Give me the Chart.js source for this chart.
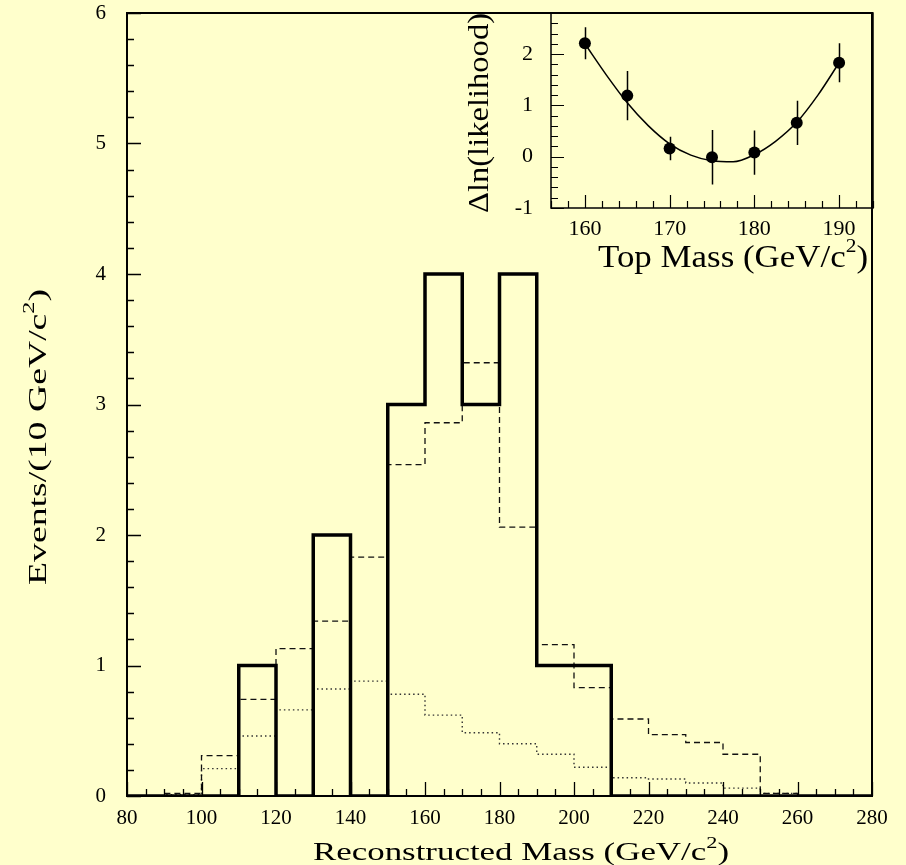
<!DOCTYPE html>
<html>
<head>
<meta charset="utf-8">
<script src="https://cdn.jsdelivr.net/npm/chart.js@4.4.1/dist/chart.umd.min.js"></script>
<style>
  html, body { margin: 0; padding: 0; background: #ffffcc; }
  #wrap { position: relative; width: 906px; height: 865px; }
  #wrap canvas { position: absolute; left: 0; top: 0; pointer-events: none; }
</style>
</head>
<body>
<div id="wrap">
  <canvas id="mass-hist" width="906" height="865"></canvas>
  <canvas id="likelihood" width="906" height="865"></canvas>
</div>
<script>
// main histogram, 10 GeV/c2 bins
const binEdges = [80, 90, 100, 110, 120, 130, 140, 150, 160, 170, 180, 190, 200, 210, 220, 230, 240, 250, 260, 270, 280];
const dataCounts = [0, 0, 0, 1, 0, 2, 0, 3, 4, 3, 4, 1, 1, 0, 0, 0, 0, 0, 0, 0];
const sigPlusBkg = [0, 0.02, 0.31, 0.74, 1.13, 1.34, 1.83, 2.54, 2.86, 3.32, 2.06, 1.16, 0.83, 0.59, 0.47, 0.41, 0.32, 0.02, 0, 0];
const bkgOnly = [0, 0.01, 0.21, 0.46, 0.66, 0.82, 0.88, 0.78, 0.62, 0.485, 0.40, 0.32, 0.22, 0.14, 0.13, 0.10, 0.06, 0.02, 0, 0];
const massTicks = [80, 100, 120, 140, 160, 180, 200, 220, 240, 260, 280];
const eventTicks = [0, 1, 2, 3, 4, 5, 6];

// inset: likelihood vs top mass
const topMass = [160, 165, 170, 175, 180, 185, 190];
const deltaLnL = [2.21, 1.19, 0.16, -0.01, 0.08, 0.66, 1.83];
const deltaLnLErr = [0.31, 0.48, 0.23, 0.53, 0.43, 0.43, 0.38];
const fitMass = [160, 162.5, 165, 167.5, 170, 172.5, 175, 177.5, 180, 182.5, 185, 187.5, 190];
const fitLnL = [2.2, 1.6, 1.05, 0.6, 0.25, 0.03, -0.08, -0.1, 0.04, 0.3, 0.67, 1.2, 1.83];
const topMassTicks = [160, 170, 180, 190];
const lnLTicks = [-1, 0, 1, 2];

const FONT = "'Liberation Serif', 'Times New Roman', serif";

let toSteps = (edges, values) => {
  const pts = values.map((v, i) => ({ x: edges[i], y: v }));
  pts.push({ x: edges[edges.length - 1], y: values[values.length - 1] });
  return pts;
};

// frame + inward ticks on bottom and left axes
const frameTicks = {
  id: "frameTicks",
  afterDatasetsDraw(chart, args, opts) {
    const { ctx, chartArea: a } = chart;
    const xs = chart.scales.x, ys = chart.scales.y;
    ctx.save();
    ctx.strokeStyle = "#000";
    ctx.lineWidth = opts.lineWidth;
    ctx.strokeRect(a.left, a.top, a.right - a.left, a.bottom - a.top);
    ctx.lineWidth = opts.tickWidth;
    ctx.beginPath();
    let k0 = Math.ceil(xs.min / opts.xMinor - 1e-9);
    for (let k = k0; k * opts.xMinor <= xs.max + 1e-9; k++) {
      const v = k * opts.xMinor;
      const r = v / opts.xMajor;
      const len = Math.abs(r - Math.round(r)) < 1e-6 ? opts.majorLen : opts.minorLen;
      const px = Math.round(xs.getPixelForValue(v)) + 0.5;
      ctx.moveTo(px, a.bottom);
      ctx.lineTo(px, a.bottom - len);
    }
    k0 = Math.ceil(ys.min / opts.yMinor - 1e-9);
    for (let k = k0; k * opts.yMinor <= ys.max + 1e-9; k++) {
      const v = k * opts.yMinor;
      const r = v / opts.yMajor;
      const len = Math.abs(r - Math.round(r)) < 1e-6 ? opts.majorLen : opts.minorLen;
      const py = Math.round(ys.getPixelForValue(v)) + 0.5;
      ctx.moveTo(a.left, py);
      ctx.lineTo(a.left + len, py);
    }
    ctx.stroke();
    ctx.restore();
  },
};

// axis titles with a raised "2", stretched to the measured width
let drawTitle = (ctx, t) => {
  const mainFont = t.size + "px " + FONT;
  const supFont = Math.round(t.size * 0.62) + "px " + FONT;
  ctx.save();
  ctx.translate(t.x, t.y);
  ctx.rotate(t.angle || 0);
  ctx.font = mainFont;
  const w1 = ctx.measureText(t.text).width;
  const w3 = ctx.measureText(t.tail || "").width;
  ctx.font = supFont;
  const w2 = ctx.measureText(t.sup || "").width;
  const total = w1 + w2 + w3;
  ctx.scale(t.width / total, 1);
  ctx.fillStyle = "#000";
  ctx.textBaseline = "alphabetic";
  ctx.textAlign = "left";
  let cur = -total / 2;
  ctx.font = mainFont;
  ctx.fillText(t.text, cur, 0);
  cur += w1;
  if (t.sup) {
    ctx.font = supFont;
    ctx.fillText(t.sup, cur, -t.size * 0.48);
    cur += w2;
  }
  if (t.tail) {
    ctx.font = mainFont;
    ctx.fillText(t.tail, cur, 0);
  }
  ctx.restore();
};

const axisTitles = {
  id: "axisTitles",
  afterDraw(chart, args, opts) {
    opts.items.forEach((t) => drawTitle(chart.ctx, t));
  },
};

const errorBars = {
  id: "errorBars",
  beforeDatasetsDraw(chart) {
    const { ctx } = chart;
    const xs = chart.scales.x, ys = chart.scales.y;
    ctx.save();
    ctx.strokeStyle = "#000";
    ctx.lineWidth = 1.5;
    ctx.beginPath();
    topMass.forEach((m, i) => {
      const px = Math.round(xs.getPixelForValue(m)) + 0.5;
      ctx.moveTo(px, ys.getPixelForValue(deltaLnL[i] + deltaLnLErr[i]));
      ctx.lineTo(px, ys.getPixelForValue(deltaLnL[i] - deltaLnLErr[i]));
    });
    ctx.stroke();
    ctx.restore();
  },
};

let tickFont = (size) => ({ family: FONT, size: size });

// y axis: fixed width, and no extra top/bottom room for the end labels
let fixYScale = (width) => (s) => {
  s.width = width;
  s.paddingTop = 0;
  s.paddingBottom = 0;
};

let makeMassHistogram = () => {
  const canvas = document.getElementById("mass-hist");
  return new Chart(canvas.getContext("2d"), {
    type: "line",
    data: {
      datasets: [
        {
          label: "Data",
          data: toSteps(binEdges, dataCounts),
          stepped: "before",
          borderColor: "#000",
          borderWidth: 3.5,
          pointRadius: 0,
          fill: false,
        },
        {
          label: "Signal + background",
          data: toSteps(binEdges, sigPlusBkg),
          stepped: "before",
          borderColor: "#111",
          borderWidth: 1.3,
          borderDash: [6, 4],
          pointRadius: 0,
          fill: false,
        },
        {
          label: "Background",
          data: toSteps(binEdges, bkgOnly),
          stepped: "before",
          borderColor: "#333",
          borderWidth: 1.4,
          borderDash: [1.5, 3],
          pointRadius: 0,
          fill: false,
        },
      ],
    },
    options: {
      responsive: false,
      animation: false,
      events: [],
      layout: { autoPadding: false, padding: { top: 13, right: 34, left: 0, bottom: 0 } },
      plugins: {
        legend: { display: false },
        tooltip: { enabled: false },
        frameTicks: { lineWidth: 2, tickWidth: 1.3, xMinor: 5, xMajor: 20, yMinor: 0.2, yMajor: 1, majorLen: 14, minorLen: 7 },
        axisTitles: {
          items: [
            { text: "Reconstructed Mass (GeV/c", sup: "2", tail: ")", x: 521, y: 860, size: 25, width: 416 },
            { text: "Events/(10 GeV/c", sup: "2", tail: ")", x: 46, y: 437, size: 25, width: 296, angle: -Math.PI / 2 },
          ],
        },
      },
      scales: {
        x: {
          type: "linear",
          min: 80,
          max: 280,
          grid: { display: false },
          border: { display: false },
          afterBuildTicks: (s) => { s.ticks = massTicks.map((v) => ({ value: v })); },
          afterFit: (s) => { s.height = 69; },
          ticks: { color: "#000", padding: 2, maxRotation: 0, font: tickFont(21) },
        },
        y: {
          type: "linear",
          min: 0,
          max: 6,
          grid: { display: false },
          border: { display: false },
          afterBuildTicks: (s) => { s.ticks = eventTicks.map((v) => ({ value: v })); },
          afterFit: fixYScale(127),
          ticks: { color: "#000", padding: 13, font: tickFont(21) },
        },
      },
    },
    plugins: [frameTicks, axisTitles],
  });
};

let makeLikelihoodInset = () => {
  const canvas = document.getElementById("likelihood");
  return new Chart(canvas.getContext("2d"), {
    type: "line",
    data: {
      datasets: [
        {
          label: "Measurements",
          data: topMass.map((m, i) => ({ x: m, y: deltaLnL[i] })),
          showLine: false,
          pointRadius: 6,
          pointBackgroundColor: "#000",
          pointBorderColor: "#000",
          pointBorderWidth: 0,
        },
        {
          label: "Fit",
          data: fitMass.map((m, i) => ({ x: m, y: fitLnL[i] })),
          borderColor: "#000",
          borderWidth: 1.5,
          tension: 0.4,
          cubicInterpolationMode: "monotone",
          pointRadius: 0,
          fill: false,
        },
      ],
    },
    options: {
      responsive: false,
      animation: false,
      events: [],
      layout: { autoPadding: false, padding: { top: 13, right: 33, left: 441, bottom: 597 } },
      plugins: {
        legend: { display: false },
        tooltip: { enabled: false },
        frameTicks: { lineWidth: 1.5, tickWidth: 1.2, xMinor: 2, xMajor: 10, yMinor: 0.2, yMajor: 1, majorLen: 13, minorLen: 7 },
        axisTitles: {
          items: [
            { text: "Top Mass (GeV/c", sup: "2", tail: ")", x: 733, y: 267, size: 31, width: 270 },
            { text: "\u0394ln(likelihood)", x: 488, y: 113, size: 30, width: 200, angle: -Math.PI / 2 },
          ],
        },
      },
      scales: {
        x: {
          type: "linear",
          min: 156,
          max: 194,
          grid: { display: false },
          border: { display: false },
          afterBuildTicks: (s) => { s.ticks = topMassTicks.map((v) => ({ value: v })); },
          afterFit: (s) => { s.height = 60; },
          ticks: { color: "#000", padding: 0, maxRotation: 0, font: tickFont(22) },
        },
        y: {
          type: "linear",
          min: -1,
          max: 2.8,
          grid: { display: false },
          border: { display: false },
          afterBuildTicks: (s) => { s.ticks = lnLTicks.map((v) => ({ value: v })); },
          afterFit: fixYScale(110),
          ticks: { color: "#000", padding: 10, font: tickFont(22) },
        },
      },
    },
    plugins: [errorBars, frameTicks, axisTitles],
  });
};

makeMassHistogram();
makeLikelihoodInset();
</script>
</body>
</html>
